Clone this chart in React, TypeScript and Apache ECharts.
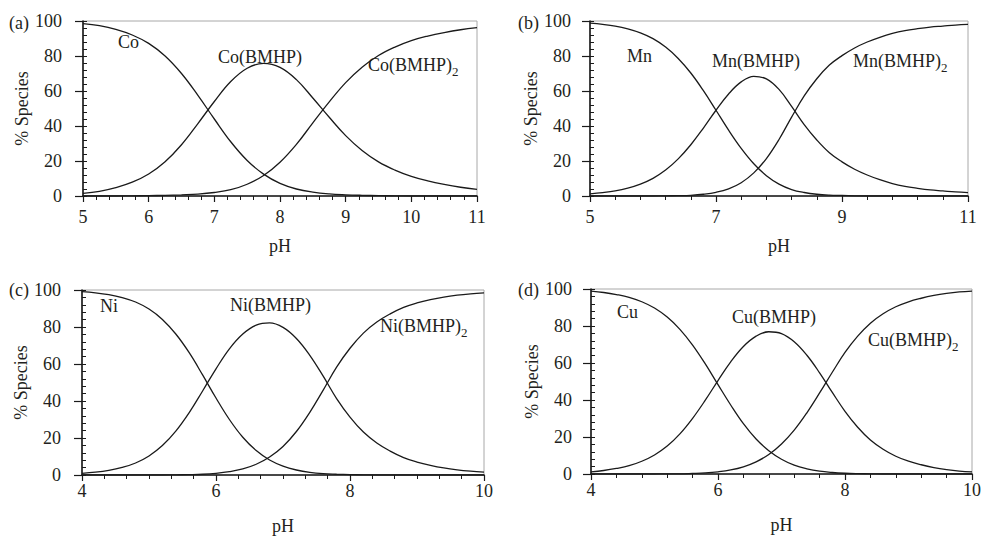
import React, { useEffect, useRef } from "react";
import * as echarts from "echarts";

// pH sampling points
const phA = [5, 5.25, 5.5, 5.75, 6, 6.25, 6.5, 6.75, 7, 7.25, 7.5, 7.75, 8, 8.25, 8.5, 8.75, 9, 9.25, 9.5, 9.75, 10, 10.25, 10.5, 10.75, 11];
const phB = [5, 5.2, 5.4, 5.6, 5.8, 6, 6.2, 6.4, 6.6, 6.8, 7, 7.2, 7.4, 7.6, 7.8, 8, 8.2, 8.4, 8.6, 8.8, 9, 9.2, 9.4, 9.6, 9.8, 10, 10.2, 10.4, 10.6, 10.8, 11];
const phCD = [4, 4.2, 4.4, 4.6, 4.8, 5, 5.2, 5.4, 5.6, 5.8, 6, 6.2, 6.4, 6.6, 6.8, 7, 7.2, 7.4, 7.6, 7.8, 8, 8.2, 8.4, 8.6, 8.8, 9, 9.2, 9.4, 9.6, 9.8, 10];

// (a) Co
const coFree = [98.5, 97.3, 95.2, 92.0, 87.2, 80.0, 70.0, 57.5, 44.0, 31.0, 20.3, 12.5, 7.2, 4.0, 2.2, 1.2, 0.7, 0.4, 0.2, 0.1, 0, 0, 0, 0, 0];
const coL = [1.5, 2.7, 4.8, 7.9, 12.6, 19.6, 29.3, 41.4, 54.0, 65.4, 73.0, 75.8, 73.5, 66.5, 56.0, 45.0, 34.5, 26.0, 19.5, 14.8, 11.2, 8.6, 6.6, 5.0, 3.8];
const coL2 = [0, 0, 0, 0.1, 0.2, 0.4, 0.7, 1.1, 2.0, 3.6, 6.7, 11.7, 19.3, 29.5, 41.8, 53.8, 64.8, 73.6, 80.3, 85.1, 88.8, 91.4, 93.4, 95.0, 96.2];

// (b) Mn
const mnFree = [98.8, 98.1, 97.1, 95.5, 93.2, 89.9, 85.1, 78.6, 70.3, 60.2, 49.0, 37.6, 27.2, 18.4, 11.6, 6.8, 3.7, 2.0, 1.0, 0.5, 0.3, 0.1, 0, 0, 0, 0, 0, 0, 0, 0, 0];
const mnL = [1.2, 1.9, 2.9, 4.5, 6.8, 10.1, 14.8, 21.2, 29.3, 38.8, 49.0, 58.3, 65.2, 68.4, 66.9, 60.9, 51.2, 40.8, 32.0, 24.7, 19.5, 15.3, 12.0, 9.3, 7.1, 5.5, 4.4, 3.5, 2.9, 2.3, 1.9];
const mnL2 = [0, 0, 0, 0, 0, 0, 0.1, 0.2, 0.4, 1.0, 2.1, 4.1, 7.6, 13.2, 21.4, 32.3, 45.1, 57.2, 67.0, 74.8, 80.2, 84.6, 88.0, 90.7, 92.9, 94.5, 95.6, 96.5, 97.1, 97.7, 98.1];

// (c) Ni
const niFree = [99.1, 98.5, 97.5, 95.9, 93.5, 89.7, 84.1, 76.2, 66.1, 54.1, 41.6, 30.0, 20.4, 13.2, 8.1, 4.8, 2.7, 1.4, 0.7, 0.4, 0.2, 0.1, 0, 0, 0, 0, 0, 0, 0, 0, 0];
const niL = [0.9, 1.5, 2.5, 4.1, 6.5, 10.3, 15.9, 23.7, 33.7, 45.4, 57.4, 68.2, 76.2, 81.0, 82.2, 79.8, 73.8, 64.7, 53.4, 41.3, 31.3, 23.2, 17.3, 12.9, 9.4, 7.0, 5.2, 3.8, 2.8, 2.1, 1.6];
const niL2 = [0, 0, 0, 0, 0, 0, 0, 0.1, 0.2, 0.4, 0.9, 1.8, 3.3, 5.8, 9.7, 15.4, 23.5, 33.9, 45.9, 58.3, 68.5, 76.7, 82.7, 87.1, 90.6, 93.0, 94.8, 96.2, 97.2, 97.9, 98.4];

// (d) Cu
const cuFree = [98.8, 98.1, 97.0, 95.5, 93.1, 89.7, 84.8, 78.2, 69.7, 59.5, 48.3, 37.3, 27.2, 18.9, 12.6, 8.0, 4.8, 2.8, 1.5, 0.8, 0.4, 0.2, 0.1, 0, 0, 0, 0, 0, 0, 0, 0];
const cuL = [1.2, 1.9, 3.0, 4.5, 6.9, 10.3, 15.1, 21.7, 30.1, 39.9, 50.5, 60.6, 68.9, 74.5, 76.9, 75.9, 71.5, 64.2, 54.7, 44.1, 33.9, 25.3, 18.4, 13.4, 9.6, 6.9, 5.0, 3.5, 2.4, 1.6, 1.1];
const cuL2 = [0, 0, 0, 0, 0, 0, 0.1, 0.1, 0.3, 0.6, 1.2, 2.2, 3.9, 6.6, 10.5, 16.2, 23.7, 33.1, 43.8, 55.0, 65.7, 74.5, 81.5, 86.6, 90.4, 93.1, 95.0, 96.5, 97.6, 98.4, 98.9];

const yTicks = [0, 20, 40, 60, 80, 100];

const FONT = '"Liberation Serif", "DejaVu Serif", serif';
const TXT = "#231f20";
const LINE = "#1a1a1a";

const panels = [
  { letter: "(a)", ph: phA, min: 5, max: 11, interval: 1, split: 5, series: [coFree, coL, coL2],
    names: ["Co", "Co(BMHP)", "Co(BMHP)"] },
  { letter: "(b)", ph: phB, min: 5, max: 11, interval: 2, split: 5, series: [mnFree, mnL, mnL2],
    names: ["Mn", "Mn(BMHP)", "Mn(BMHP)"] },
  { letter: "(c)", ph: phCD, min: 4, max: 10, interval: 2, split: 6, series: [niFree, niL, niL2],
    names: ["Ni", "Ni(BMHP)", "Ni(BMHP)"] },
  { letter: "(d)", ph: phCD, min: 4, max: 10, interval: 2, split: 5, series: [cuFree, cuL, cuL2],
    names: ["Cu", "Cu(BMHP)", "Cu(BMHP)"] },
];

// layout (pixels)
const grids = [
  { left: 83, top: 21, width: 394, height: 175, labelMargin: 12 },
  { left: 590, top: 21, width: 378, height: 175, labelMargin: 12 },
  { left: 82, top: 290, width: 402, height: 185, labelMargin: 7 },
  { left: 591, top: 289, width: 382, height: 185, labelMargin: 7 },
];

// annotation positions: [x, yCenter] for free, ML, ML2 ; letter position
const annot = [
  { letter: [9, 23], pos: [[118, 42], [218, 57], [368, 65]] },
  { letter: [518, 23], pos: [[627, 56], [712, 61], [853, 61]] },
  { letter: [9, 290], pos: [[100, 306], [230, 305], [380, 326]] },
  { letter: [518, 290], pos: [[617, 312], [732, 317], [868, 340]] },
];

export default function App() {
  const ref = useRef<HTMLDivElement>(null);
  useEffect(() => {
    if (!ref.current) return;
    const chart = echarts.init(ref.current, undefined, { renderer: "svg" });

    const grid: any[] = [];
    const xAxis: any[] = [];
    const yAxis: any[] = [];
    const series: any[] = [];
    const graphic: any[] = [];

    panels.forEach((p, g) => {
      const gr = grids[g];
      grid.push({
        left: gr.left, top: gr.top, width: gr.width, height: gr.height,
        show: true, borderColor: "#a8a8a8", borderWidth: 1, backgroundColor: "transparent",
      });
      xAxis.push({
        type: "value", gridIndex: g, min: p.min, max: p.max, interval: p.interval,
        axisLine: { show: true, onZero: false, lineStyle: { color: LINE, width: 1.6 } },
        axisTick: { show: true, length: 6, lineStyle: { color: LINE, width: 1.2 } },
        minorTick: { show: true, splitNumber: p.split, length: 4, lineStyle: { color: LINE, width: 1 } },
        splitLine: { show: false },
        minorSplitLine: { show: false },
        axisLabel: { fontSize: 18, fontFamily: FONT, color: TXT, margin: gr.labelMargin },
        name: "pH", nameLocation: "middle", nameGap: g < 2 ? 41 : 42,
        nameTextStyle: { fontSize: 18, fontFamily: FONT, color: TXT },
      });
      yAxis.push({
        type: "value", gridIndex: g, min: 0, max: 100, interval: 20, position: "left",
        axisLine: { show: true, onZero: false, lineStyle: { color: LINE, width: 1.6 } },
        axisTick: { show: true, length: 8, lineStyle: { color: LINE, width: 1.2 } },
        splitLine: { show: false },
        axisLabel: {
          fontSize: 18, fontFamily: FONT, color: TXT, margin: g % 2 === 0 ? 21 : 19,
          formatter: (v: number) => (yTicks.includes(v) ? String(v) : ""),
        },
        name: "% Species", nameLocation: "middle", nameGap: g % 2 === 0 ? 51 : 50,
        nameTextStyle: { fontSize: 18, fontFamily: FONT, color: TXT },
      });
      yAxis.push({
        type: "value", gridIndex: g, min: 0, max: 100, interval: 4, position: "left",
        axisLine: { show: false },
        axisTick: { show: true, inside: true, length: 4, lineStyle: { color: LINE, width: 1 } },
        axisLabel: { show: false },
        splitLine: { show: false },
      });
      p.series.forEach((arr, k) => {
        series.push({
          type: "line", name: p.names[k] + (k === 2 ? "2" : ""),
          xAxisIndex: g, yAxisIndex: 2 * g,
          data: p.ph.map((x, i) => [x, arr[i]]),
          smooth: 0.4, showSymbol: false, symbol: "none",
          lineStyle: { color: LINE, width: 1.3 },
          z: 3,
        });
      });

      const a = annot[g];
      graphic.push({
        type: "text", x: a.letter[0], y: a.letter[1],
        style: { text: p.letter, font: `18px ${FONT}`, fill: TXT, textVerticalAlign: "middle" },
      });
      p.names.forEach((nm, k) => {
        const [x, y] = a.pos[k];
        if (k < 2) {
          graphic.push({
            type: "text", x, y,
            style: { text: nm, font: `18px ${FONT}`, fill: TXT, textVerticalAlign: "middle" },
          });
        } else {
          graphic.push({
            type: "text", x, y,
            style: {
              text: `{n|${nm}}{s|2}`,
              fill: TXT,
              textVerticalAlign: "middle",
              rich: {
                n: { fontSize: 18, fontFamily: FONT, color: TXT },
                s: { fontSize: 13, fontFamily: FONT, color: TXT, padding: [12, 0, 0, 0] },
              },
            },
          });
        }
      });
    });

    chart.setOption({
      animation: false,
      backgroundColor: "#ffffff",
      textStyle: { fontFamily: FONT },
      grid, xAxis, yAxis, series, graphic,
    });
    return () => chart.dispose();
  }, []);
  return (
    <div
      ref={ref}
      style={{ position: "fixed", left: 0, top: 0, width: 984, height: 536, background: "#fff" }}
    />
  );
}
